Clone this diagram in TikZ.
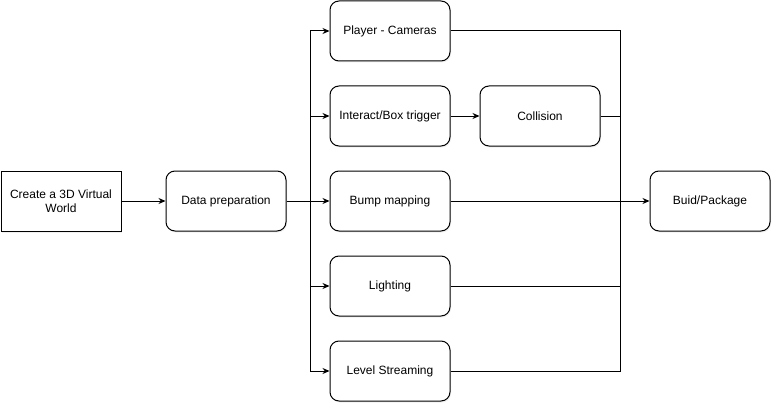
\documentclass[tikz,border=0pt]{standalone}
\usepackage{fontspec}
\setmainfont{Liberation Sans}
\usetikzlibrary{arrows.meta,shadows}
\begin{document}
\begin{tikzpicture}[
    x=1pt, y=-1pt,
    every node/.style={font=\fontsize{12}{14}\selectfont},
    line width=1pt,
    block/.style={rectangle, draw, fill=white, minimum width=120pt, minimum height=60pt, align=center, inner sep=2pt, drop shadow={shadow xshift=1pt, shadow yshift=-1.5pt, opacity=0.12}},
    stage/.style={block, rounded corners=9pt},
    arrow/.style={-{Stealth[length=7pt, width=6pt]}},
]
\useasboundingbox (0,0) rectangle (782,412);
% -------------------------
% Left Column Nodes
% -------------------------
    \node[block] (world) at (61, 201) {Create a 3D Virtual\\World};
    \node[stage] (prep) at (226, 201) {Data preparation};

% -------------------------
% Middle Column Nodes
% -------------------------
    \node[stage] (player) at (390, 31) {Player - Cameras};
    \node[stage] (interact) at (390, 116) {Interact/Box trigger};
    \node[stage] (collision) at (540, 116) {Collision};
    \node[stage] (bump) at (390, 201) {Bump mapping};
    \node[stage] (light) at (390, 286) {Lighting};
    \node[stage] (level) at (390, 371) {Level Streaming};

% -------------------------
% Right Column Node
% -------------------------
    \node[stage] (build) at (710, 201) {Buid/Package};

% -------------------------
% Arrows & Routing
% -------------------------
    \coordinate (split) at (310, 201);
    \coordinate (jointop) at (620, 31);
    \coordinate (joinbot) at (620, 371);

    \draw[arrow] (world) -- (prep);
    \draw (prep) -- (split);
    \draw[arrow] (split) |- (player);
    \draw[arrow] (split) |- (interact);
    \draw[arrow] (split) -- (bump);
    \draw[arrow] (split) |- (light);
    \draw[arrow] (split) |- (level);
    \draw[arrow] (interact) -- (collision);

% Merge lines into the join rail
    \draw (player) -- (jointop) -- (joinbot) -- (level);
    \draw (collision) -- (collision -| jointop);
    \draw (light) -- (light -| jointop);
    \draw[arrow] (bump) -- (build);
\end{tikzpicture}
\end{document}
